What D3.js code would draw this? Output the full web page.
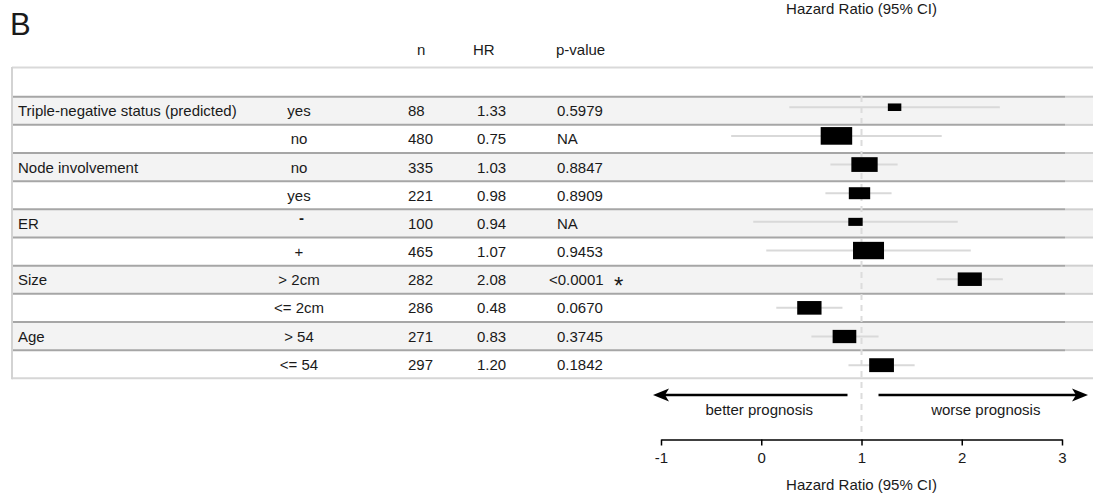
<!DOCTYPE html>
<html lang="en">
<head>
    <meta charset="UTF-8">
    <title>Forest plot B</title>
    <style>
        body {
            margin: 0;
            background-color: #fff;
            font-family: "Liberation Sans", Arial, Helvetica, sans-serif;
        }
        text {
            fill: #1a1a1a;
        }
    </style>
    <script src="https://d3js.org/d3.v7.min.js"></script>
</head>
<body>
    <div id="chart"></div>

    <script>
        // table data, one entry per row
        const groups = ["Triple-negative status (predicted)", "", "Node involvement", "", "ER", "", "Size", "", "Age", ""];
        const subgroups = ["yes", "no", "no", "yes", "-", "+", "> 2cm", "<= 2cm", "> 54", "<= 54"];
        const nValues = [88, 480, 335, 221, 100, 465, 282, 286, 271, 297];
        const hrValues = [1.33, 0.75, 1.03, 0.98, 0.94, 1.07, 2.08, 0.48, 0.83, 1.20];
        const pValues = ["0.5979", "NA", "0.8847", "0.8909", "NA", "0.9453", "<0.0001", "0.0670", "0.3745", "0.1842"];
        const ciLow = [0.28, -0.30, 0.69, 0.64, -0.08, 0.05, 1.75, 0.15, 0.50, 0.87];
        const ciHigh = [2.38, 1.80, 1.36, 1.30, 1.96, 2.09, 2.41, 0.81, 1.17, 1.53];
        const xTicks = [-1, 0, 1, 2, 3];

        const width = 1093;
        const height = 499;
        const fontSize = 15;
        const rows = d3.range(groups.length);

        const svg = d3.select("#chart").append("svg")
            .attr("width", width)
            .attr("height", height)
            .style("display", "block");

        // scales
        const x = d3.scaleLinear().domain([-1, 3]).range([661, 1062]);
        const tableY = d3.scaleBand().domain(rows).range([96.7, 378.3]);
        const plotY = d3.scaleBand().domain(rows).range([92.9, 379.5]);
        const boxW = d3.scaleSqrt().domain([0, d3.max(nValues)]).range([0, 31.5]);

        // row backgrounds
        svg.append("g")
            .selectAll("rect")
            .data(rows.filter(i => i % 2 === 0))
            .enter().append("rect")
            .attr("x", 12)
            .attr("y", i => tableY(i))
            .attr("width", width - 12)
            .attr("height", tableY.bandwidth())
            .attr("fill", "#f3f3f3");

        // row separators
        const bounds = d3.range(1, groups.length).map(i => tableY(i));
        const sep = svg.append("g");
        sep.selectAll("line.tab")
            .data([tableY.range()[0]].concat(bounds))
            .enter().append("line")
            .attr("x1", 12).attr("x2", 1065)
            .attr("y1", d => d).attr("y2", d => d)
            .attr("stroke", "#a6a6a6")
            .attr("stroke-width", 2);
        sep.selectAll("line.margin")
            .data([tableY.range()[0]].concat(bounds))
            .enter().append("line")
            .attr("x1", 1065).attr("x2", width)
            .attr("y1", d => d).attr("y2", d => d)
            .attr("stroke", "#cfcfcf")
            .attr("stroke-width", 2);

        // outer borders
        sep.append("line")
            .attr("x1", 12).attr("x2", width)
            .attr("y1", 67.5).attr("y2", 67.5)
            .attr("stroke", "#d9d9d9").attr("stroke-width", 2);
        sep.append("line")
            .attr("x1", 12).attr("x2", width)
            .attr("y1", tableY.range()[1]).attr("y2", tableY.range()[1])
            .attr("stroke", "#d6d6d6").attr("stroke-width", 2);
        sep.append("line")
            .attr("x1", 12).attr("x2", 12)
            .attr("y1", 67).attr("y2", tableY.range()[1] + 1)
            .attr("stroke", "#d3d3d3").attr("stroke-width", 2);

        // panel letter
        svg.append("text")
            .attr("x", 10).attr("y", 35)
            .attr("font-size", 31)
            .text("B");

        // column headers
        const header = svg.append("g").attr("font-size", fontSize);
        header.append("text").attr("x", 417).attr("y", 55).text("n");
        header.append("text").attr("x", 473).attr("y", 55).text("HR");
        header.append("text").attr("x", 556).attr("y", 55).text("p-value");

        // table cells
        const cells = svg.append("g").attr("font-size", fontSize);
        const rowBase = i => tableY(i) + tableY.bandwidth() / 2 + 5.5;

        cells.selectAll("text.group")
            .data(rows)
            .enter().append("text")
            .attr("x", 18)
            .attr("y", rowBase)
            .text(i => groups[i]);

        cells.selectAll("text.sub")
            .data(rows)
            .enter().append("text")
            .attr("x", i => subgroups[i] === "-" ? 301.5 : 299)
            .attr("y", i => subgroups[i] === "-" ? rowBase(i) - 6 : rowBase(i))
            .attr("text-anchor", "middle")
            .attr("font-weight", i => subgroups[i] === "-" ? "bold" : null)
            .text(i => subgroups[i]);

        cells.selectAll("text.n")
            .data(rows)
            .enter().append("text")
            .attr("x", 408)
            .attr("y", rowBase)
            .text(i => nValues[i]);

        cells.selectAll("text.hr")
            .data(rows)
            .enter().append("text")
            .attr("x", 477)
            .attr("y", rowBase)
            .text(i => d3.format(".2f")(hrValues[i]));

        cells.selectAll("text.p")
            .data(rows)
            .enter().append("text")
            .attr("x", i => pValues[i].startsWith("<") ? 549 : 557)
            .attr("y", rowBase)
            .text(i => pValues[i]);

        cells.selectAll("text.star")
            .data(rows.filter(i => pValues[i].startsWith("<") || +pValues[i] < 0.05))
            .enter().append("text")
            .attr("x", 618.7)
            .attr("y", i => rowBase(i) + 9)
            .attr("text-anchor", "middle")
            .attr("font-size", 24)
            .text("*");

        // reference line at HR = 1
        svg.append("line")
            .attr("x1", x(1)).attr("x2", x(1))
            .attr("y1", 96).attr("y2", 437)
            .attr("stroke", "#dcdcdc")
            .attr("stroke-width", 2)
            .attr("stroke-dasharray", "6,5");

        // confidence intervals
        const forest = svg.append("g");
        forest.selectAll("line.ci")
            .data(rows)
            .enter().append("line")
            .attr("x1", i => x(ciLow[i]))
            .attr("x2", i => x(ciHigh[i]))
            .attr("y1", i => plotY(i) + plotY.bandwidth() / 2)
            .attr("y2", i => plotY(i) + plotY.bandwidth() / 2)
            .attr("stroke", "#d9d9d9")
            .attr("stroke-width", 2);

        // boxes sized by n
        forest.selectAll("rect.box")
            .data(rows)
            .enter().append("rect")
            .attr("x", i => x(hrValues[i]) - boxW(nValues[i]) / 2)
            .attr("y", i => plotY(i) + plotY.bandwidth() / 2 - boxW(nValues[i]) * 0.28)
            .attr("width", i => boxW(nValues[i]))
            .attr("height", i => boxW(nValues[i]) * 0.56)
            .attr("fill", "#000");

        // prognosis arrows
        const arrowY = 395;
        const arrows = svg.append("g");
        arrows.append("line")
            .attr("x1", x(1) - 14).attr("x2", x(-1) + 2)
            .attr("y1", arrowY).attr("y2", arrowY)
            .attr("stroke", "#000").attr("stroke-width", 2.5);
        arrows.append("path")
            .attr("d", `M${x(-1) - 8},${arrowY} L${x(-1) + 8},${arrowY - 6.5} L${x(-1) + 4},${arrowY} L${x(-1) + 8},${arrowY + 6.5} Z`)
            .attr("fill", "#000");
        arrows.append("line")
            .attr("x1", x(1) + 17).attr("x2", x(3) + 16)
            .attr("y1", arrowY).attr("y2", arrowY)
            .attr("stroke", "#000").attr("stroke-width", 2.5);
        arrows.append("path")
            .attr("d", `M${x(3) + 26},${arrowY} L${x(3) + 10},${arrowY - 6.5} L${x(3) + 14},${arrowY} L${x(3) + 10},${arrowY + 6.5} Z`)
            .attr("fill", "#000");
        arrows.append("text")
            .attr("x", x(-0.02)).attr("y", 415)
            .attr("text-anchor", "middle")
            .attr("font-size", fontSize)
            .text("better prognosis");
        arrows.append("text")
            .attr("x", x(2.24)).attr("y", 415)
            .attr("text-anchor", "middle")
            .attr("font-size", fontSize)
            .text("worse prognosis");

        // x axis
        const axis = svg.append("g")
            .attr("transform", "translate(0,439.5)")
            .call(d3.axisBottom(x).tickValues(xTicks).tickSize(6).tickSizeOuter(0).tickPadding(7).tickFormat(d => String(d)));
        axis.select(".domain").attr("stroke", "#000").attr("stroke-width", 1.5);
        axis.selectAll(".tick line").attr("stroke", "#000").attr("stroke-width", 1.5);
        axis.selectAll(".tick text")
            .attr("font-size", fontSize)
            .attr("font-family", "Liberation Sans, Arial, sans-serif")
            .style("fill", "#1a1a1a");

        // axis titles, bottom and top
        svg.append("text")
            .attr("x", x(1)).attr("y", 490)
            .attr("text-anchor", "middle")
            .attr("font-size", fontSize)
            .text("Hazard Ratio (95% CI)");
        svg.append("text")
            .attr("x", x(1)).attr("y", 13.5)
            .attr("text-anchor", "middle")
            .attr("font-size", fontSize)
            .text("Hazard Ratio (95% CI)");
    </script>
</body>
</html>
